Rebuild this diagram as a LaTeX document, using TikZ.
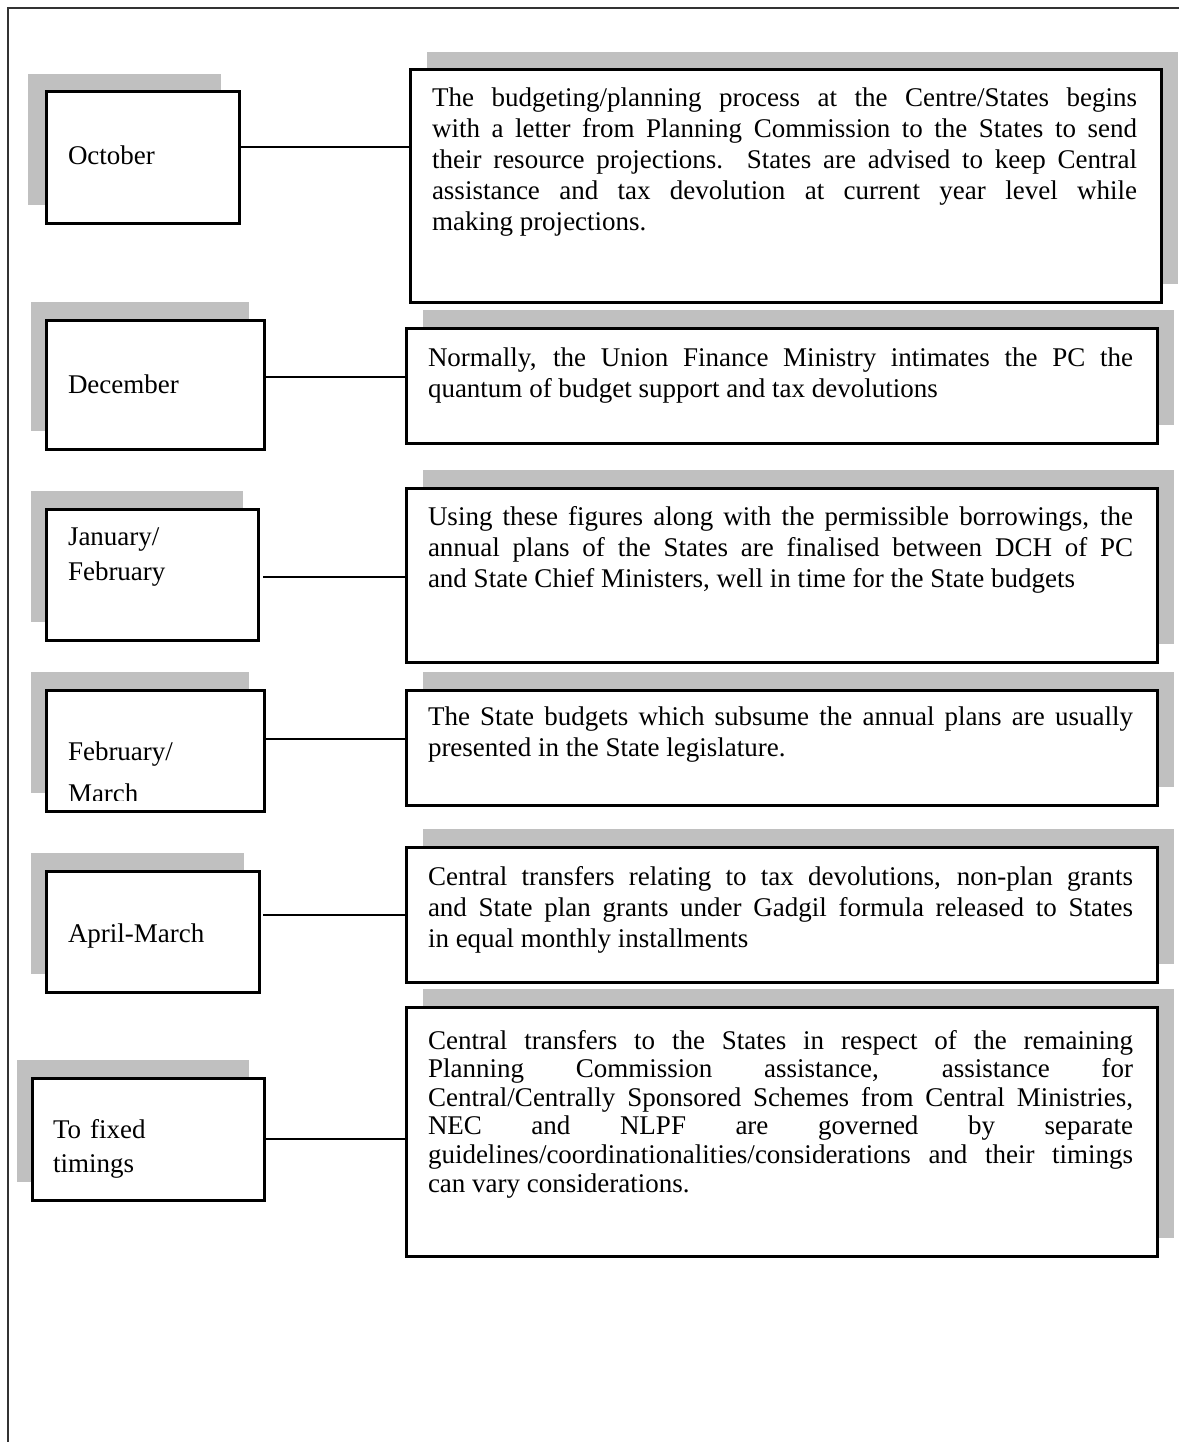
\documentclass[tikz,border=0pt]{standalone}
\usepackage{fontspec}
\setmainfont{Liberation Serif}
\usepackage{tikz}
\usetikzlibrary{calc}
\usetikzlibrary{positioning}
\usetikzlibrary{backgrounds}
\definecolor{shadowgray}{RGB}{192,192,192}
\tolerance=10000
\hbadness=10000

\begin{document}
\begin{tikzpicture}[x=1pt,y=-1pt,outer sep=0pt,inner sep=0pt]

	\tikzstyle{every node}=[font=\fontsize{27}{31}\selectfont]

	\tikzset{monthbox/.style={draw,line width=3pt,fill=white,anchor=north west}}
	\tikzset{notebox/.style={draw,line width=3pt,fill=white,anchor=north west,
		minimum width=751pt}}
	\tikzset{month/.style={anchor=base west,align=left,text width=200pt}}
	\tikzset{note/.style={anchor=base west,align=justify,text width=705pt}}
	\tikzset{shade/.style={fill=shadowgray}}
	\tikzset{link/.style={line width=1.5pt}}

	\useasboundingbox (0,0) rectangle (1179,1442);

	% Page frame, open to the right and the bottom.
	\draw [line width=1.5pt,black!80] (8,1442) -- (8,8) -- (1179,8);

	% Month boxes down the left side.
	\node (oct) [monthbox,minimum width=193pt,minimum height=131pt] at (46,92) {};
	\node (dec) [monthbox,minimum width=218pt,minimum height=129pt] at (46,320) {};
	\node (jan) [monthbox,minimum width=212pt,minimum height=131pt] at (46,509) {};
	\node (feb) [monthbox,minimum width=218pt,minimum height=121pt] at (46,690) {};
	\node (apr) [monthbox,minimum width=213pt,minimum height=121pt] at (46,871) {};
	\node (fix) [monthbox,minimum width=232pt,minimum height=122pt] at (32,1078) {};

	\node (octlabel) [month] at ($(oct.north west)+(22,73)$) {October};
	\node (declabel) [month] at ($(dec.north west)+(22,73)$) {December};
	\node (janlabel) [month,font=\fontsize{27}{35}\selectfont]
		at ($(jan.north west)+(22,36)$) {January/\\February};
	\begin{scope}
		\clip (feb.north west) rectangle ([yshift=11pt]feb.south east);
		\node (feblabel) [month,font=\fontsize{27}{42}\selectfont]
			at ($(feb.north west)+(22,70)$) {February/\\March};
	\end{scope}
	\node (aprlabel) [month] at ($(apr.north west)+(22,71)$) {April-March};
	\node (fixlabel) [month,font=\fontsize{27}{34}\selectfont]
		at ($(fix.north west)+(21,60)$) {To fixed\\timings};

	% Note boxes down the right side.
	\node (octnote) [notebox,minimum height=232pt] at (410,70) {};
	\node (decnote) [notebox,minimum height=115pt] at (406,328) {};
	\node (jannote) [notebox,minimum height=174pt] at (406,488) {};
	\node (febnote) [notebox,minimum height=115pt] at (406,690) {};
	\node (aprnote) [notebox,minimum height=135pt] at (406,847) {};
	\node (fixnote) [notebox,minimum height=249pt] at (406,1007) {};

	\node (octtext) [note] at ($(octnote.north west)+(22,37)$) {The
		budgeting/planning process at the Centre/States begins\linebreak
		with a letter from Planning Commission to the States to send\linebreak
		their resource projections.\ \ States are advised to keep Central\linebreak
		assistance and tax devolution at current year level while\linebreak
		making projections.};
	\node (dectext) [note] at ($(decnote.north west)+(22,38)$) {Normally,
		the Union Finance Ministry intimates the PC the\linebreak
		quantum of budget support and tax devolutions};
	\node (jantext) [note] at ($(jannote.north west)+(22,37)$) {Using
		these figures along with the permissible borrowings, the\linebreak
		annual plans of the States are finalised between DCH of PC\linebreak
		and State Chief Ministers, well in time for the State budgets};
	\node (febtext) [note] at ($(febnote.north west)+(22,35)$) {The
		State budgets which subsume the annual plans are usually\linebreak
		presented in the State legislature.};
	\node (aprtext) [note] at ($(aprnote.north west)+(22,38)$) {Central
		transfers relating to tax devolutions, non-plan grants\linebreak
		and State plan grants under Gadgil formula released to States\linebreak
		in equal monthly installments};
	\node (fixtext) [note,font=\fontsize{27}{28.6}\selectfont]
		at ($(fixnote.north west)+(22,42)$) {Central
		transfers to the States in respect of the remaining\linebreak
		Planning Commission assistance, assistance for\linebreak
		Central/Centrally Sponsored Schemes from Central Ministries,\linebreak
		NEC and NLPF are governed by separate\linebreak
		guidelines/coordinationalities/considerations and their timings\linebreak
		can vary considerations.};

	% Grey shadows behind every box.
	\begin{scope}[on background layer]
		\foreach \b/\dx in {oct/-18,dec/-15,jan/-15,feb/-15,apr/-15,fix/-15}
			\fill [shade] ([shift={(\dx,-18)}]\b.north west) rectangle ([shift={(\dx,-18)}]\b.south east);
		\foreach \b in {octnote,decnote,jannote,febnote,aprnote,fixnote}
			\fill [shade] ([shift={(17,-18)}]\b.north west) rectangle ([shift={(17,-18)}]\b.south east);
	\end{scope}

	% Lines from each month to its note.
	\coordinate (octend) at ([yshift=10.5pt]oct.east);
	\coordinate (decend) at ([yshift=7.5pt]dec.east);
	\coordinate (janend) at ([xshift=5pt,yshift=-2.5pt]jan.east);
	\coordinate (febend) at ([yshift=11.5pt]feb.east);
	\coordinate (aprend) at ([xshift=4pt,yshift=16.5pt]apr.east);
	\coordinate (fixend) at (fix.east);
	\foreach \m in {oct,dec,jan,feb,apr,fix}
		\draw [link] (\m end) -- (\m end -| \m note.west);
\end{tikzpicture}
\end{document}
